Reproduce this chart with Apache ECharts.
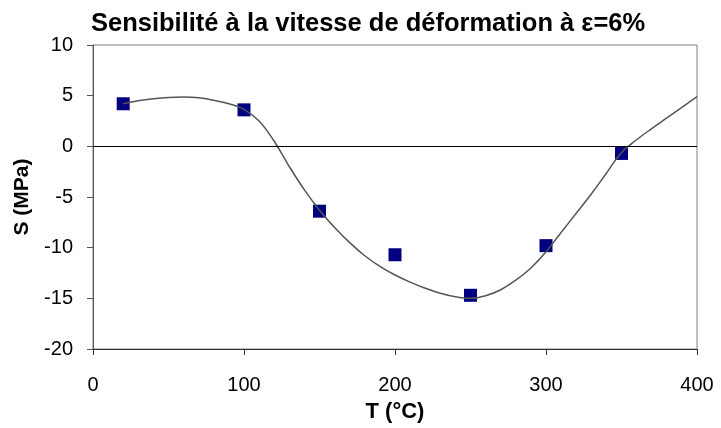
<!DOCTYPE html>
<html>
<head>
<meta charset="utf-8">
<script src="https://cdn.jsdelivr.net/npm/echarts@6/dist/echarts.min.js"></script>
<style>
  html, body { margin: 0; padding: 0; background: #fff; }
  #chart { width: 721px; height: 428px; }
</style>
</head>
<body>
<div id="chart"></div>
<script>
// Measured strain-rate sensitivity S (MPa) versus temperature T (°C)
var temps = [20, 100, 150, 200, 250, 300, 350];
var sValues = [4.2, 3.6, -6.4, -10.7, -14.7, -9.8, -0.7];

// Trend curve through the measurements, sampled every 10 °C
var trendT = [20, 30, 40, 50, 60, 70, 80, 90, 100, 110, 120, 130, 140, 150, 160, 170, 180, 190, 200,
              210, 220, 230, 240, 250, 260, 270, 280, 290, 300, 310, 320, 330, 340, 350, 360, 370, 380, 390, 400];
var trendS = [4.2, 4.5, 4.7, 4.83, 4.87, 4.8, 4.55, 4.2, 3.65, 2.5, 0.5, -2.0, -4.3, -6.3, -8.0, -9.5, -10.8, -11.85, -12.7,
              -13.4, -14.0, -14.5, -14.85, -15.0, -14.75, -14.15, -13.2, -12.0, -10.4, -8.5, -6.6, -4.7, -2.65, -0.6, 0.65, 1.75, 2.8, 3.85, 4.9];

var xTicks = [0, 100, 200, 300, 400];
var yTicks = [-20, -15, -10, -5, 0, 5, 10];

var font = 'Liberation Sans, Arial, sans-serif';

var chart = echarts.init(document.getElementById('chart'), null, { renderer: 'canvas' });
chart.setOption({
  animation: false,
  backgroundColor: '#ffffff',
  title: {
    text: 'Sensibilité à la vitesse de déformation à ε=6%',
    left: 86,
    top: 6,
    textStyle: { fontFamily: font, fontSize: 25.5, fontWeight: 'bold', color: '#000' }
  },
  grid: {
    left: 93, right: 24, top: 45, bottom: 79,
    show: true, borderColor: '#808080', borderWidth: 1, backgroundColor: 'transparent'
  },
  xAxis: {
    type: 'value',
    min: xTicks[0], max: xTicks[xTicks.length - 1], interval: 100,
    name: 'T (°C)', nameLocation: 'middle', nameGap: 52,
    nameTextStyle: { fontFamily: font, fontSize: 22, fontWeight: 'bold', color: '#000' },
    axisLine: { show: true, onZero: false, lineStyle: { color: '#333', width: 1 } },
    axisTick: { show: true, inside: false, length: 6, lineStyle: { color: '#333' } },
    axisLabel: { fontFamily: font, fontSize: 20, color: '#000', margin: 26 },
    splitLine: { show: false }
  },
  yAxis: {
    type: 'value',
    min: yTicks[0], max: yTicks[yTicks.length - 1], interval: 5,
    name: 'S (MPa)', nameLocation: 'middle', nameGap: 55, nameRotate: 90,
    nameTextStyle: { fontFamily: font, fontSize: 21, fontWeight: 'bold', color: '#000' },
    axisLine: { show: true, lineStyle: { color: '#555', width: 1 } },
    axisTick: { show: true, inside: false, length: 6, lineStyle: { color: '#555' } },
    axisLabel: { fontFamily: font, fontSize: 20, color: '#000', margin: 20 },
    splitLine: { show: false }
  },
  series: [
    {
      type: 'scatter',
      data: temps.map(function (t, i) { return [t, sValues[i]]; }),
      symbol: 'rect',
      symbolSize: 13,
      itemStyle: { color: '#000080', opacity: 1 },
      z: 2
    },
    {
      type: 'line',
      data: trendT.map(function (t, i) { return [t, trendS[i]]; }),
      smooth: 0.4,
      showSymbol: false,
      lineStyle: { color: '#555', width: 1.5 },
      z: 3,
      markLine: {
        silent: true,
        symbol: ['none', 'none'],
        label: { show: false },
        lineStyle: { color: '#000', width: 1, type: 'solid' },
        data: [{ yAxis: 0 }]
      }
    }
  ]
});
</script>
</body>
</html>
